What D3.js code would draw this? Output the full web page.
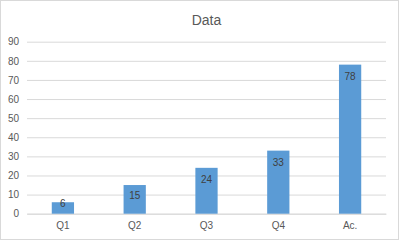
<!DOCTYPE html>
<html><head><meta charset="utf-8">
<script src="https://cdn.jsdelivr.net/npm/d3@7"></script>
<style>body{margin:0;background:#fff}svg{display:block}</style>
</head><body>
<script>
const categories = ["Q1","Q2","Q3","Q4","Ac."];
const values = [6,15,24,33,78];
const yTicks = [0,10,20,30,40,50,60,70,80,90];
const title = "Data";

const W = 399, H = 240;
const m = {left:27, right:13, top:41.7, bottom:26.3};
const font = "Liberation Sans, Arial, sans-serif";
const svg = d3.select("body").append("svg").attr("width",W).attr("height",H);
svg.append("rect").attr("x",0.5).attr("y",0.5).attr("width",W-1).attr("height",H-1)
  .attr("fill","#fff").attr("stroke","#d9d9d9");

const x = d3.scaleBand().domain(categories).range([m.left, W-m.right]).paddingInner(0.69).paddingOuter(0.345);
const y = d3.scaleLinear().domain([0,90]).range([H-m.bottom, m.top]);

svg.append("text").attr("x",(m.left+W-m.right)/2).attr("y",20).attr("text-anchor","middle")
  .attr("dominant-baseline","central").attr("font-family",font).attr("font-size",14).attr("fill","#595959").text(title);

const ya = svg.append("g").attr("transform",`translate(${m.left},0)`)
  .call(d3.axisLeft(y).tickValues(yTicks).tickSize(-(W-m.left-m.right)).tickPadding(8));
ya.select(".domain").remove();
ya.selectAll(".tick line").attr("stroke","#d9d9d9");
ya.selectAll(".tick text").attr("font-family",font).attr("font-size",10).attr("fill","#595959");

const xa = svg.append("g").attr("transform",`translate(0,${H-m.bottom})`)
  .call(d3.axisBottom(x).tickSize(0).tickPadding(8));
xa.select(".domain").attr("stroke","#d9d9d9");
xa.selectAll(".tick text").attr("font-family",font).attr("font-size",10).attr("fill","#595959");

svg.append("g").selectAll("rect").data(values).join("rect")
  .attr("x",(d,i)=>x(categories[i])).attr("width",x.bandwidth())
  .attr("y",d=>y(d)).attr("height",d=>y(0)-y(d)).attr("fill","#5b9bd5");

svg.append("g").selectAll("text").data(values).join("text")
  .attr("x",(d,i)=>x(categories[i])+x.bandwidth()/2)
  .attr("y",d=>{const h=y(0)-y(d); return y(d)+Math.min(12, h/2-4);})
  .attr("text-anchor","middle").attr("dominant-baseline","central")
  .attr("font-family",font).attr("font-size",10).attr("fill","#404040").text(d=>d);
</script>
</body></html>
